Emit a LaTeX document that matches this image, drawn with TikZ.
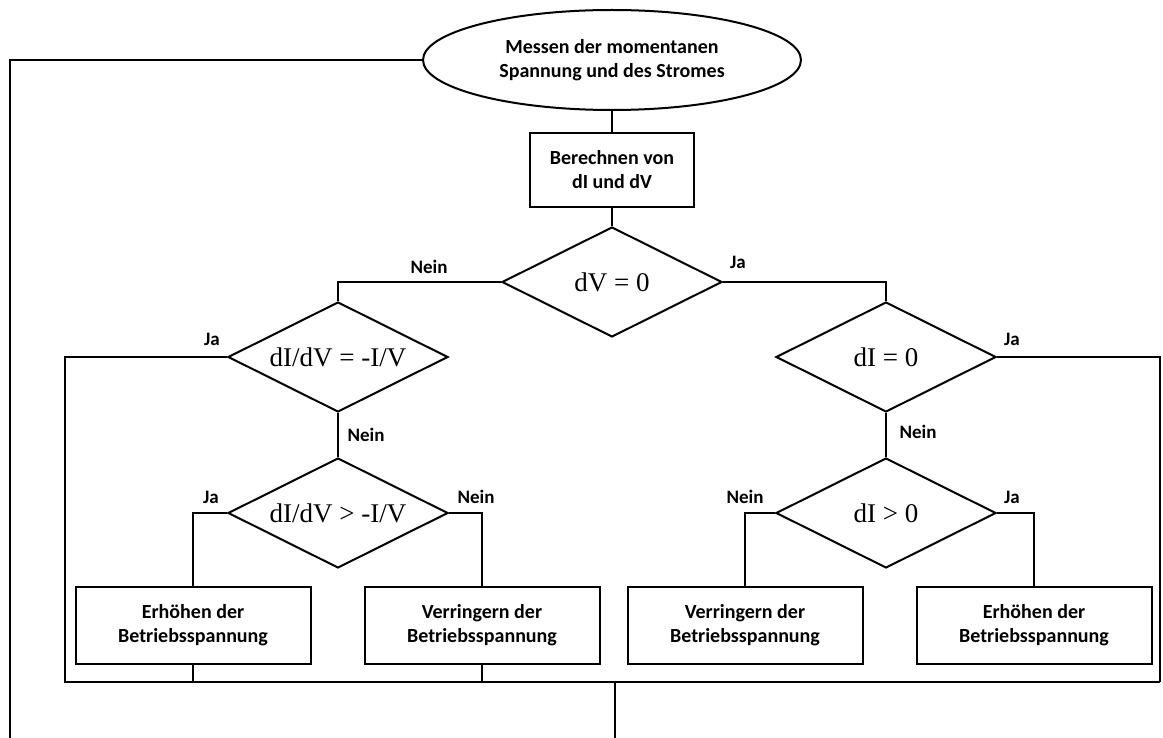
\documentclass[tikz,border=0pt]{standalone}
\usepackage{fontspec}
\setmainfont{Carlito}
\newfontfamily\formfont{Liberation Serif}
\usetikzlibrary{shapes.geometric}
\begin{document}
\begin{tikzpicture}[x=1pt,y=-1pt,
  line width=2pt,
  every node/.style={font=\bfseries\fontsize{20}{24}\selectfont, align=center, inner sep=0pt},
  boxnode/.style={draw, rectangle, minimum width=235pt, minimum height=77pt},
  decision/.style={draw, diamond, aspect=2, minimum width=220pt, minimum height=110pt,
                   font=\formfont\fontsize{27}{30}\selectfont},
  lbl/.style={font=\bfseries\fontsize{19}{22}\selectfont}
]
\useasboundingbox (0,0) rectangle (1163,738);

\node[draw, ellipse, minimum width=378pt, minimum height=100pt] (ell) at (612,60)
  {Messen der momentanen\\Spannung und des Stromes};
\node[draw, rectangle, minimum width=164pt, minimum height=74pt] (calc) at (612,170)
  {Berechnen von\\dI und dV};
\node[decision] (d0) at (612,282) {dV = 0};
\node[decision] (d1) at (338,357) {dI/dV = -I/V};
\node[decision] (d2) at (886,357) {dI = 0};
\node[decision] (d3) at (338,513) {dI/dV > -I/V};
\node[decision] (d4) at (886,513) {dI > 0};

\node[boxnode] (b1) at (193,625.5) {Erhöhen der\\Betriebsspannung};
\node[boxnode] (b2) at (482,625.5) {Verringern der\\Betriebsspannung};
\node[boxnode] (b3) at (745,625.5) {Verringern der\\Betriebsspannung};
\node[boxnode] (b4) at (1034,625.5) {Erhöhen der\\Betriebsspannung};

\coordinate (cL) at (10,738);
\coordinate (cBL) at (65,682);
\coordinate (cBR) at (1160,682);
\coordinate (cBM) at (615,682);
\coordinate (cEnd) at (615,738);

\draw (ell.west) -| (cL);
\draw (ell.south) -- (calc.north);
\draw (calc.south) -- (d0.north);
\draw (d0.west) -| (d1.north);
\draw (d0.east) -| (d2.north);
\draw (d1.south) -- (d3.north);
\draw (d2.south) -- (d4.north);
\draw (d3.west) -| (b1.north);
\draw (d3.east) -| (b2.north);
\draw (d4.west) -| (b3.north);
\draw (d4.east) -| (b4.north);
\draw (d1.west) -| (cBL) -- (cBR);
\draw (d2.east) -| (cBR);
\draw (b1.south) -- (b1.south |- cBL);
\draw (b2.south) -- (b2.south |- cBL);
\draw (cBM) -- (cEnd);

\node[lbl] (lN0) at (429,267) {Nein};
\node[lbl] (lJ0) at (738,262) {Ja};
\node[lbl] (lJ1) at (212,339) {Ja};
\node[lbl] (lN1) at (366,435) {Nein};
\node[lbl] (lJ2) at (1012,339) {Ja};
\node[lbl] (lN2) at (918,432) {Nein};
\node[lbl] (lJ3) at (211,497) {Ja};
\node[lbl] (lN3) at (476,497) {Nein};
\node[lbl] (lN4) at (745,497) {Nein};
\node[lbl] (lJ4) at (1012,497) {Ja};
\end{tikzpicture}
\end{document}
